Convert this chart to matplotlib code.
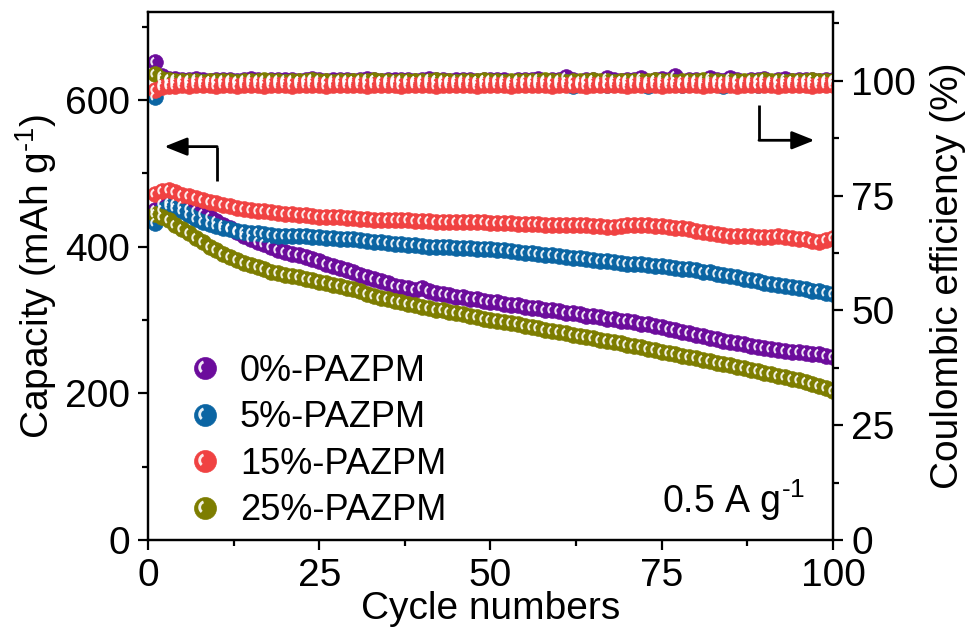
import matplotlib
matplotlib.use("Agg")
import matplotlib.pyplot as plt
import numpy as np
from matplotlib.path import Path
from matplotlib.markers import MarkerStyle
from matplotlib.legend_handler import HandlerTuple

# data
cycles = np.arange(1, 101)
labels = ["0%-PAZPM", "5%-PAZPM", "15%-PAZPM", "25%-PAZPM"]
colors = ["#6c0c9c", "#0b65a3", "#f04242", "#7d7d00"]

cap_0 = [450, 458, 460, 458, 455, 452, 449, 445, 440, 435,
         430, 425, 420, 415, 411, 407, 403, 399, 396, 393,
         390, 388, 386, 383, 380, 377, 374, 371, 368, 365,
         362, 359, 356, 353, 350, 347, 345, 343, 341, 343,
         339, 337, 335, 334, 332, 331, 329, 328, 326, 325,
         324, 322, 321, 320, 318, 317, 316, 314, 313, 312,
         310, 309, 308, 306, 305, 304, 302, 301, 299, 298,
         297, 295, 294, 292, 290, 288, 286, 284, 282, 280,
         278, 276, 274, 272, 270, 268, 267, 265, 263, 262,
         260, 259, 258, 257, 256, 255, 254, 253, 251, 250]
cap_5 = [432, 450, 456, 453, 448, 443, 438, 434, 431, 428,
         426, 424, 422, 420, 419, 418, 417, 416, 415, 415,
         414, 414, 414, 413, 413, 412, 412, 411, 410, 410,
         409, 408, 407, 406, 405, 404, 403, 402, 402, 401,
         400, 400, 399, 399, 398, 398, 398, 397, 397, 397,
         396, 395, 394, 393, 392, 391, 390, 389, 388, 387,
         386, 385, 384, 383, 382, 381, 380, 379, 378, 377,
         377, 376, 375, 374, 373, 372, 371, 370, 369, 368,
         366, 365, 363, 362, 360, 358, 356, 355, 353, 351,
         349, 348, 346, 345, 343, 342, 340, 339, 337, 335]
cap_15 = [472, 476, 477, 474, 471, 469, 466, 464, 461, 459,
          457, 455, 453, 452, 450, 449, 448, 447, 446, 445,
          444, 443, 443, 442, 441, 441, 440, 440, 439, 439,
          438, 438, 437, 437, 437, 436, 436, 436, 435, 435,
          435, 434, 434, 434, 434, 433, 433, 433, 433, 432,
          432, 432, 432, 431, 431, 431, 431, 430, 430, 430,
          430, 429, 429, 429, 428, 428, 427, 427, 428, 430,
          430, 429, 429, 428, 428, 427, 426, 425, 424, 422,
          420, 418, 417, 416, 415, 415, 414, 414, 413, 413,
          413, 414, 413, 412, 411, 410, 408, 407, 409, 412]
cap_25 = [445, 441, 436, 430, 424, 418, 412, 406, 400, 395,
          390, 386, 382, 378, 375, 372, 369, 366, 364, 362,
          360, 358, 356, 354, 352, 350, 348, 346, 344, 342,
          339, 336, 333, 330, 328, 326, 324, 322, 320, 318,
          316, 314, 313, 311, 309, 308, 306, 304, 302, 300,
          299, 297, 296, 294, 292, 291, 289, 287, 285, 283,
          282, 280, 278, 277, 275, 273, 272, 270, 268, 266,
          265, 263, 261, 259, 257, 255, 253, 251, 250, 248,
          246, 244, 242, 240, 238, 236, 234, 232, 230, 228,
          226, 224, 222, 220, 218, 216, 213, 210, 207, 203]

ce_0 = [104.0, 101.0, 100.5, 100.3, 100.2, 100.1, 100.3, 100.2, 100.0, 100.1,
        100.2, 100.1, 100.0, 100.2, 100.3, 100.1, 100.0, 100.1, 100.2, 100.1,
        100.2, 100.0, 100.1, 100.3, 100.1, 100.0, 100.2, 100.1, 100.2, 100.0,
        100.1, 100.3, 100.1, 100.0, 100.2, 100.1, 100.1, 100.2, 100.0, 100.1,
        100.3, 100.1, 100.2, 100.0, 100.1, 100.2, 100.1, 100.0, 100.2, 100.1,
        100.1, 100.2, 99.6, 100.1, 100.2, 100.1, 100.3, 100.0, 100.1, 100.2,
        100.9, 100.1, 99.4, 100.1, 100.2, 99.3, 100.7, 100.1, 100.0, 100.2,
        100.1, 100.7, 99.5, 100.1, 100.3, 100.1, 101.0, 99.4, 100.2, 100.1,
        99.3, 100.6, 100.1, 100.0, 100.7, 100.1, 99.5, 100.2, 100.1, 100.5,
        99.6, 100.1, 100.3, 100.0, 100.1, 100.2, 100.1, 100.0, 100.2, 100.1]
ce_5 = [96.5, 99.0, 99.4, 99.6, 99.7, 99.6, 99.8, 99.7, 99.6, 99.7,
        99.8, 99.6, 99.7, 99.5, 99.7, 99.8, 99.6, 99.7, 99.6, 99.8,
        99.7, 99.6, 99.8, 99.7, 99.5, 99.7, 99.6, 99.8, 99.7, 99.6,
        99.7, 99.8, 99.6, 99.7, 99.6, 99.5, 99.7, 99.8, 99.6, 99.7,
        99.6, 99.8, 99.7, 99.6, 99.7, 99.5, 99.8, 99.6, 99.7, 99.6,
        99.7, 99.8, 99.6, 99.7, 99.3, 99.7, 99.6, 99.8, 99.7, 99.6,
        99.7, 98.9, 99.6, 99.8, 99.7, 99.6, 99.1, 99.7, 99.8, 99.6,
        99.7, 99.6, 98.8, 99.7, 99.6, 99.8, 99.7, 99.2, 99.6, 99.7,
        99.8, 99.6, 99.7, 98.9, 99.6, 99.7, 99.8, 99.6, 99.0, 99.7,
        99.6, 99.8, 99.7, 99.6, 99.7, 99.8, 99.6, 99.7, 99.6, 99.7]
ce_15 = [98.0, 98.6, 98.8, 98.9, 99.0, 98.9, 99.0, 99.1, 99.0, 98.9,
         99.0, 99.0, 98.9, 99.1, 99.0, 99.0, 98.9, 99.0, 99.1, 99.0,
         98.9, 99.0, 99.0, 99.1, 99.0, 98.9, 99.0, 99.0, 99.1, 99.0,
         99.0, 98.9, 99.0, 99.1, 99.0, 99.0, 98.9, 99.0, 99.0, 99.1,
         99.0, 98.9, 99.0, 99.0, 99.1, 99.0, 99.0, 98.9, 99.0, 99.0,
         99.1, 99.0, 98.9, 99.0, 99.0, 99.1, 99.0, 99.0, 98.9, 99.0,
         99.0, 99.1, 99.0, 98.9, 99.0, 99.0, 99.1, 99.0, 99.0, 98.9,
         99.0, 99.0, 99.1, 99.0, 98.9, 99.0, 99.0, 99.1, 99.0, 99.0,
         98.9, 99.0, 99.1, 99.0, 99.0, 98.9, 99.0, 99.0, 99.1, 99.0,
         99.0, 98.9, 99.0, 99.1, 99.0, 99.0, 98.9, 99.0, 99.0, 99.1]
ce_25 = [101.6, 100.4, 100.1, 99.9, 100.0, 99.9, 100.0, 99.8, 99.9, 100.0,
         99.9, 100.0, 99.8, 99.9, 100.0, 99.9, 100.1, 99.9, 100.0, 99.8,
         99.9, 100.0, 99.9, 100.1, 99.9, 100.0, 99.8, 99.9, 100.0, 99.9,
         100.0, 99.9, 100.1, 99.9, 100.0, 99.8, 99.9, 100.0, 99.9, 100.0,
         99.9, 100.1, 99.9, 100.0, 99.8, 99.9, 100.0, 99.9, 100.1, 99.9,
         100.0, 99.8, 99.9, 100.0, 99.9, 100.0, 99.9, 100.1, 99.9, 100.0,
         99.8, 99.9, 100.0, 99.9, 100.1, 99.9, 100.0, 99.8, 99.9, 100.0,
         99.9, 100.0, 99.9, 100.1, 99.9, 100.0, 99.8, 99.9, 100.0, 99.9,
         100.1, 99.9, 100.0, 99.8, 99.9, 100.0, 99.9, 100.0, 99.9, 100.1,
         99.9, 100.0, 99.8, 99.9, 100.0, 99.9, 100.1, 99.9, 100.0, 99.9]

caps = [cap_0, cap_5, cap_15, cap_25]
ces = [ce_0, ce_5, ce_15, ce_25]

# font
plt.rcParams['font.family'] = ['Liberation Sans', 'DejaVu Sans']
plt.rcParams['mathtext.default'] = 'regular'
plt.rcParams['axes.linewidth'] = 1.6

FS = 28
MS = 11.3

# shiny highlight marker: a white "(" crescent on the upper left of the ball
# (matplotlib rescales custom markers by their max |vertex|, so compensate in ms)
t1 = np.radians(np.linspace(110, 230, 20))
t2 = t1[::-1]
arc = np.vstack([np.column_stack([0.33 * np.cos(t1), 0.05 + 0.33 * np.sin(t1)]),
                 np.column_stack([0.20 * np.cos(t2), 0.05 + 0.20 * np.sin(t2)])])
spot_marker = MarkerStyle(Path(np.vstack([arc, arc[:1]]), closed=True))
MS_SPOT = MS * 2 * np.max(np.abs(arc))

fig = plt.figure(figsize=(9.69, 6.37), dpi=100)
ax = fig.add_axes([0.1527, 0.1523, 0.7069, 0.8289])
ax2 = ax.twinx()

# coulombic efficiency (right axis), red on top
for i in [0, 1, 3, 2]:
    ax2.plot(cycles, ces[i], 'o', ms=MS, color=colors[i], mec=colors[i], mew=0.5)
for i in [0, 1, 3, 2]:
    ax2.plot(cycles, ces[i], ls='none', marker=spot_marker, ms=MS_SPOT,
             mfc='white', mec='none', alpha=0.9)

# capacity (left axis)
handles = []
bases = []
for i in range(4):
    b, = ax.plot(cycles, caps[i], 'o', ms=MS, color=colors[i], mec=colors[i], mew=0.5)
    bases.append(b)
for i in range(4):
    g, = ax.plot(cycles, caps[i], ls='none', marker=spot_marker, ms=MS_SPOT,
                 mfc='white', mec='none', alpha=0.9)
    handles.append((bases[i], g))

ax.set_xlim(0, 100)
ax.set_ylim(0, 720)
ax2.set_ylim(0, 115)

ax.set_xticks([0, 25, 50, 75, 100])
ax.set_xticks(np.arange(12.5, 100, 25), minor=True)
ax.set_yticks([0, 200, 400, 600])
ax.set_yticks([100, 300, 500, 700], minor=True)
ax2.set_yticks([0, 25, 50, 75, 100])
ax2.set_yticks([12.5, 37.5, 62.5, 87.5, 112.5], minor=True)

ax.tick_params(axis='both', which='major', direction='out', length=7, width=1.6,
               labelsize=FS, pad=6)
ax.tick_params(axis='both', which='minor', direction='out', length=4, width=1.6)
ax.tick_params(axis='x', top=False, which='both')
ax2.tick_params(axis='y', which='major', direction='out', length=7, width=1.6,
                labelsize=FS, pad=6)
ax2.tick_params(axis='y', which='minor', direction='out', length=4, width=1.6)

ax.set_xlabel("Cycle numbers", fontsize=FS, labelpad=-2)
ax.set_ylabel("Capacity (mAh g$^{\u2010 1}$)", fontsize=FS, labelpad=4)
ax2.set_ylabel("Coulombic efficiency (%)", fontsize=FS, labelpad=10)

# legend (ball + highlight drawn on top of each other)
leg = ax.legend(handles, labels, handler_map={tuple: HandlerTuple(ndivide=1)},
                loc='lower left', bbox_to_anchor=(0.042, -0.012), frameon=False,
                fontsize=26, numpoints=1, markerscale=1.4, handlelength=0.55,
                handletextpad=0.7, labelspacing=0.32, borderpad=0.0)

# arrows pointing to the axes
arrow = dict(arrowstyle='-|>,head_length=0.55,head_width=0.22', lw=2,
             color='black', mutation_scale=25, shrinkA=0, shrinkB=0)
ax.annotate('', xy=(0.024, 0.745), xytext=(0.101, 0.745),
            xycoords='axes fraction', arrowprops=arrow)
ax.plot([0.101, 0.101], [0.745, 0.680], transform=ax.transAxes,
        color='black', lw=2, solid_capstyle='butt')
ax.annotate('', xy=(0.973, 0.757), xytext=(0.892, 0.757),
            xycoords='axes fraction', arrowprops=arrow)
ax.plot([0.892, 0.892], [0.824, 0.757], transform=ax.transAxes,
        color='black', lw=2, solid_capstyle='butt')

ax.text(0.959, 0.076, "0.5 A g$^{\u2010 1}$", transform=ax.transAxes,
        fontsize=27, ha='right', va='center')

fig.savefig("out.png", dpi=100)
